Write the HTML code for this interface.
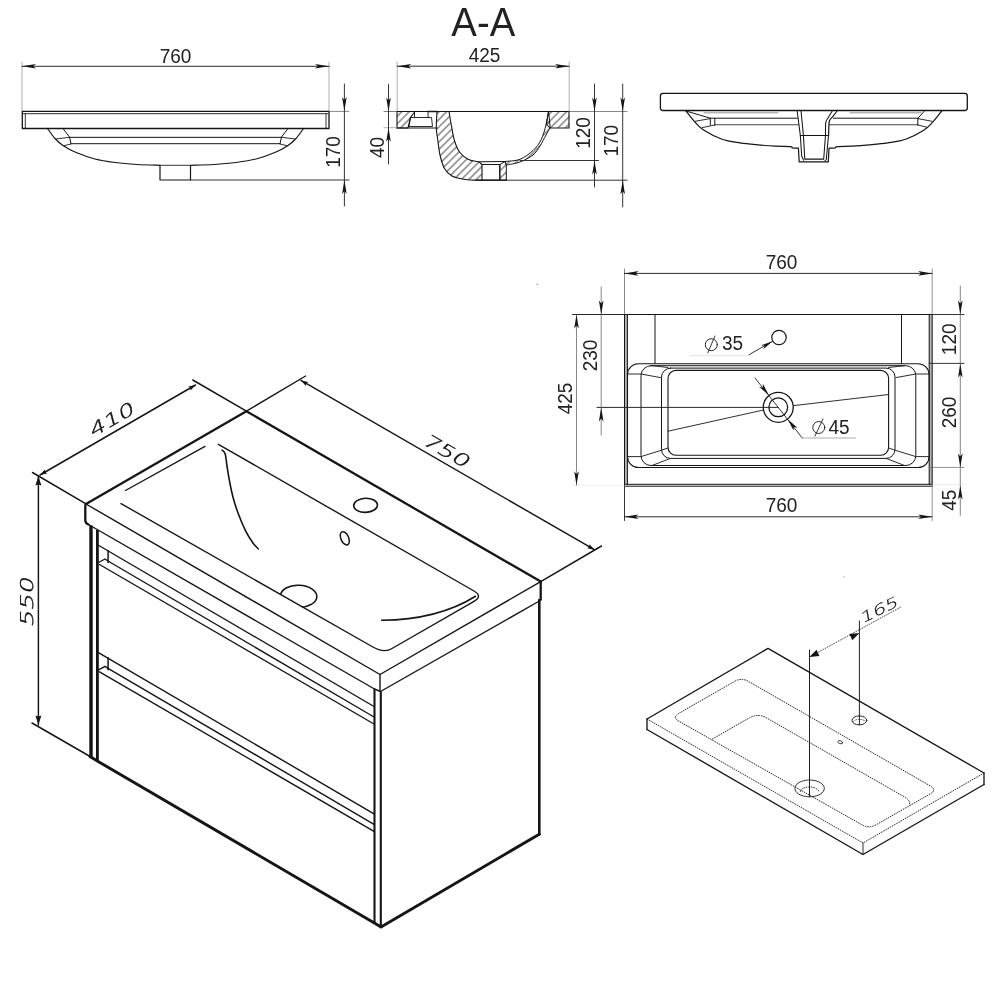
<!DOCTYPE html>
<html lang="en"><head><meta charset="utf-8"><title>Vanity unit 750 – technical drawing</title>
<style>
html,body{margin:0;padding:0;background:#fff;}
body{width:1000px;height:1000px;overflow:hidden;font-family:"Liberation Sans",Arial,sans-serif;}
svg{display:block;will-change:transform;}
</style></head><body>
<svg width="1000" height="1000" viewBox="0 0 1000 1000" stroke-linecap="round" stroke-linejoin="round">
<rect x="0" y="0" width="1000" height="1000" fill="#fff"/>
<defs>
<pattern id="h" width="5.3" height="5.3" patternUnits="userSpaceOnUse" patternTransform="rotate(-45)">
<line x1="0" y1="2.65" x2="5.3" y2="2.65" stroke="#2a2a2a" stroke-width="0.85"/></pattern>
</defs>
<line x1="22.00" y1="62.00" x2="22.00" y2="111.00" stroke="#7a7a7a" stroke-width="0.6" />
<line x1="329.00" y1="62.00" x2="329.00" y2="111.00" stroke="#7a7a7a" stroke-width="0.6" />
<line x1="22.00" y1="66.30" x2="329.00" y2="66.30" stroke="#2a2a2a" stroke-width="1.0" />
<path d="M22.00,66.30 L36.00,64.00 L33.00,66.30 L36.00,68.60 Z" fill="#151515" stroke="none"/>
<path d="M329.00,66.30 L315.00,68.60 L318.00,66.30 L315.00,64.00 Z" fill="#151515" stroke="none"/>
<text transform="translate(175.50 62.50) rotate(0) scale(0.97 1)" x="0" y="0" font-size="19.6" font-family='"Liberation Sans", Arial, sans-serif' text-anchor="middle" fill="#222" >760</text>
<path d="M22.30,111.40 L329.00,111.40 L329.00,128.50 L22.30,128.50 Z" stroke="#151515" stroke-width="1.3" fill="none" />
<line x1="23.00" y1="113.70" x2="328.00" y2="113.70" stroke="#2a2a2a" stroke-width="1.0" />
<line x1="25.30" y1="113.70" x2="25.30" y2="128.00" stroke="#2a2a2a" stroke-width="0.95" />
<line x1="326.00" y1="113.70" x2="326.00" y2="128.00" stroke="#2a2a2a" stroke-width="0.95" />
<path d="M47.50,128.50 C48.75,130.17 52.42,135.67 55.00,138.50 C57.58,141.33 59.67,143.25 63.00,145.50 C66.33,147.75 69.67,149.75 75.00,152.00 C80.33,154.25 88.33,157.25 95.00,159.00 C101.67,160.75 108.00,161.58 115.00,162.50 C122.00,163.42 129.50,164.03 137.00,164.50 C144.50,164.97 156.17,165.17 160.00,165.30" stroke="#151515" stroke-width="1.2" fill="none" />
<path d="M303.50,128.50 C302.25,130.17 298.58,135.67 296.00,138.50 C293.42,141.33 291.33,143.25 288.00,145.50 C284.67,147.75 281.33,149.75 276.00,152.00 C270.67,154.25 262.67,157.25 256.00,159.00 C249.33,160.75 243.00,161.58 236.00,162.50 C229.00,163.42 221.50,164.03 214.00,164.50 C206.50,164.97 194.83,165.17 191.00,165.30" stroke="#151515" stroke-width="1.2" fill="none" />
<path d="M160.00,165.30 L160.00,180.00 L190.50,180.00 L190.50,165.30" stroke="#151515" stroke-width="1.2" fill="none" />
<line x1="160.00" y1="165.30" x2="190.50" y2="165.30" stroke="#2a2a2a" stroke-width="0.95" />
<line x1="69.50" y1="137.35" x2="281.50" y2="137.35" stroke="#151515" stroke-width="1.0" />
<line x1="71.00" y1="143.70" x2="280.00" y2="143.70" stroke="#151515" stroke-width="1.0" />
<path d="M63.00,128.50 L69.50,137.00 L71.00,143.70" stroke="#151515" stroke-width="1.0" fill="none" />
<line x1="56.50" y1="138.90" x2="69.50" y2="137.30" stroke="#151515" stroke-width="0.9" />
<line x1="64.00" y1="145.70" x2="71.00" y2="144.00" stroke="#151515" stroke-width="0.9" />
<path d="M288.00,128.50 L281.50,137.00 L280.00,143.70" stroke="#151515" stroke-width="1.0" fill="none" />
<line x1="294.50" y1="138.90" x2="281.50" y2="137.30" stroke="#151515" stroke-width="0.9" />
<line x1="287.00" y1="145.70" x2="280.00" y2="144.00" stroke="#151515" stroke-width="0.9" />
<line x1="329.00" y1="111.40" x2="349.00" y2="111.40" stroke="#555" stroke-width="0.7" />
<line x1="190.50" y1="180.00" x2="349.00" y2="180.00" stroke="#2a2a2a" stroke-width="0.95" />
<line x1="344.40" y1="84.00" x2="344.40" y2="206.00" stroke="#2a2a2a" stroke-width="0.95" />
<path d="M344.40,111.00 L342.10,97.00 L344.40,100.00 L346.70,97.00 Z" fill="#151515" stroke="none"/>
<path d="M344.40,180.00 L346.70,194.00 L344.40,191.00 L342.10,194.00 Z" fill="#151515" stroke="none"/>
<text transform="translate(340.00 152.00) rotate(-90) scale(0.97 1)" x="0" y="0" font-size="19.6" font-family='"Liberation Sans", Arial, sans-serif' text-anchor="middle" fill="#222" >170</text>
<text transform="translate(483.30 35.70) rotate(0) scale(0.935 1)" x="0" y="0" font-size="41" font-family='"Liberation Sans", Arial, sans-serif' text-anchor="middle" fill="#222" >A-A</text>
<line x1="397.20" y1="62.00" x2="397.20" y2="111.50" stroke="#7a7a7a" stroke-width="0.6" />
<line x1="569.20" y1="62.00" x2="569.20" y2="111.50" stroke="#7a7a7a" stroke-width="0.6" />
<line x1="397.20" y1="66.20" x2="569.20" y2="66.20" stroke="#2a2a2a" stroke-width="1.0" />
<path d="M397.20,66.20 L411.20,63.90 L408.20,66.20 L411.20,68.50 Z" fill="#151515" stroke="none"/>
<path d="M569.20,66.20 L555.20,68.50 L558.20,66.20 L555.20,63.90 Z" fill="#151515" stroke="none"/>
<text transform="translate(484.50 62.20) rotate(0) scale(0.97 1)" x="0" y="0" font-size="19.6" font-family='"Liberation Sans", Arial, sans-serif' text-anchor="middle" fill="#222" >425</text>
<path d="M397.00,111.50 L415.00,111.50 L410.50,117.50 L408.00,128.00 L397.00,128.00 Z" stroke="#151515" stroke-width="1.1" fill="url(#h)" />
<line x1="397.00" y1="111.50" x2="569.00" y2="111.50" stroke="#151515" stroke-width="1.2" />
<line x1="397.00" y1="128.00" x2="437.00" y2="128.00" stroke="#151515" stroke-width="1.1" />
<path d="M410.50,117.50 L431.50,117.50 L432.50,126.50 L409.00,126.50 L410.50,117.50" stroke="#151515" stroke-width="0.9" fill="none" />
<line x1="414.50" y1="111.50" x2="414.50" y2="117.50" stroke="#151515" stroke-width="0.9" />
<line x1="428.00" y1="111.50" x2="428.00" y2="117.50" stroke="#151515" stroke-width="0.9" />
<path d="M428.00,111.50 L437.00,111.50" stroke="#151515" stroke-width="1.6" fill="none" />
<path d="M437.00,111.50 C436.88,114.25 436.17,123.25 436.30,128.00 C436.43,132.75 437.18,135.50 437.80,140.00 C438.42,144.50 438.88,150.25 440.00,155.00 C441.12,159.75 442.50,165.00 444.50,168.50 C446.50,172.00 448.75,174.20 452.00,176.00 C455.25,177.80 460.00,178.60 464.00,179.30 C468.00,180.00 474.00,180.05 476.00,180.20 L482,180.2 L482,164.5 L479,161.8 L479.00,161.80 C477.25,161.42 471.75,161.13 468.50,159.50 C465.25,157.87 461.87,155.25 459.50,152.00 C457.13,148.75 455.67,144.50 454.30,140.00 C452.93,135.50 452.18,129.75 451.30,125.00 C450.42,120.25 449.38,113.75 449.00,111.50 Z" stroke="#151515" stroke-width="1.1" fill="url(#h)" />
<path d="M482.00,164.50 L500.00,164.50 L500.00,180.20 L482.00,180.20" stroke="#151515" stroke-width="1.0" fill="none" />
<path d="M479.00,161.80 L505.00,161.50" stroke="#151515" stroke-width="1.0" fill="none" />
<path d="M500.00,164.50 L505.00,161.50 L506.30,165.00 L506.30,180.20 L500.00,180.20 Z" stroke="#151515" stroke-width="1.0" fill="url(#h)" />
<line x1="476.00" y1="180.20" x2="506.30" y2="180.20" stroke="#151515" stroke-width="1.2" />
<path d="M548.50,111.50 C548.08,113.75 547.25,120.25 546.00,125.00 C544.75,129.75 543.17,135.75 541.00,140.00 C538.83,144.25 536.50,147.28 533.00,150.50 C529.50,153.72 524.67,157.47 520.00,159.30 C515.33,161.13 507.50,161.13 505.00,161.50 L506.30,165.00 C508.58,164.50 515.55,163.67 520.00,162.00 C524.45,160.33 529.67,157.67 533.00,155.00 C536.33,152.33 537.83,149.33 540.00,146.00 C542.17,142.67 544.33,138.00 546.00,135.00 C547.67,132.00 549.33,129.17 550.00,128.00 Z" stroke="#151515" stroke-width="1.0" fill="url(#h)" />
<path d="M548.50,111.50 L569.00,111.50 L569.00,128.00 L550.00,128.00 L546.30,124.00 Z" stroke="#151515" stroke-width="1.1" fill="url(#h)" />
<line x1="384.00" y1="111.50" x2="397.00" y2="111.50" stroke="#444" stroke-width="0.7" />
<line x1="384.00" y1="127.70" x2="397.00" y2="127.70" stroke="#7a7a7a" stroke-width="0.6" />
<line x1="388.50" y1="84.50" x2="388.50" y2="164.00" stroke="#2a2a2a" stroke-width="0.95" />
<path d="M388.50,111.50 L386.20,97.50 L388.50,100.50 L390.80,97.50 Z" fill="#151515" stroke="none"/>
<path d="M388.50,127.70 L390.80,141.70 L388.50,138.70 L386.20,141.70 Z" fill="#151515" stroke="none"/>
<text transform="translate(383.50 147.50) rotate(-90) scale(0.97 1)" x="0" y="0" font-size="19.6" font-family='"Liberation Sans", Arial, sans-serif' text-anchor="middle" fill="#222" >40</text>
<line x1="569.00" y1="111.50" x2="627.00" y2="111.50" stroke="#555" stroke-width="0.7" />
<line x1="520.00" y1="160.50" x2="598.50" y2="160.50" stroke="#2a2a2a" stroke-width="0.95" />
<line x1="506.00" y1="180.20" x2="627.00" y2="180.20" stroke="#2a2a2a" stroke-width="0.95" />
<line x1="594.50" y1="84.00" x2="594.50" y2="187.00" stroke="#2a2a2a" stroke-width="0.95" />
<line x1="622.70" y1="84.00" x2="622.70" y2="207.00" stroke="#2a2a2a" stroke-width="0.95" />
<path d="M594.50,111.50 L592.20,97.50 L594.50,100.50 L596.80,97.50 Z" fill="#151515" stroke="none"/>
<path d="M594.50,160.50 L596.80,174.50 L594.50,171.50 L592.20,174.50 Z" fill="#151515" stroke="none"/>
<path d="M622.70,111.50 L620.40,97.50 L622.70,100.50 L625.00,97.50 Z" fill="#151515" stroke="none"/>
<path d="M622.70,180.20 L625.00,194.20 L622.70,191.20 L620.40,194.20 Z" fill="#151515" stroke="none"/>
<text transform="translate(590.00 133.00) rotate(-90) scale(0.97 1)" x="0" y="0" font-size="19.6" font-family='"Liberation Sans", Arial, sans-serif' text-anchor="middle" fill="#222" >120</text>
<text transform="translate(618.00 140.70) rotate(-90) scale(0.97 1)" x="0" y="0" font-size="19.6" font-family='"Liberation Sans", Arial, sans-serif' text-anchor="middle" fill="#222" >170</text>
<rect x="660.40" y="93.40" width="306.90" height="17.10" rx="2.5" ry="2.5" fill="none" stroke="#151515" stroke-width="1.3"/>
<path d="M686.00,111.00 C687.50,112.87 692.00,118.98 695.00,122.20 C698.00,125.42 699.50,127.45 704.00,130.30 C708.50,133.15 716.00,137.20 722.00,139.30 C728.00,141.40 734.00,141.97 740.00,142.90 C746.00,143.83 752.17,144.35 758.00,144.90 C763.83,145.45 769.58,145.92 775.00,146.20 C780.42,146.48 787.58,146.33 790.50,146.60 C793.42,146.87 791.18,147.53 792.50,147.80 C793.82,148.07 797.42,148.13 798.40,148.20" stroke="#151515" stroke-width="1.2" fill="none" />
<path d="M941.70,111.00 C940.20,112.87 935.70,118.98 932.70,122.20 C929.70,125.42 928.20,127.45 923.70,130.30 C919.20,133.15 911.70,137.20 905.70,139.30 C899.70,141.40 893.70,141.97 887.70,142.90 C881.70,143.83 875.53,144.35 869.70,144.90 C863.87,145.45 858.12,145.92 852.70,146.20 C847.28,146.48 840.12,146.33 837.20,146.60 C834.28,146.87 836.52,147.53 835.20,147.80 C833.88,148.07 830.28,148.13 829.30,148.20" stroke="#151515" stroke-width="1.2" fill="none" />
<line x1="704.00" y1="112.80" x2="778.00" y2="112.80" stroke="#777" stroke-width="0.8" />
<line x1="850.00" y1="112.80" x2="921.00" y2="112.80" stroke="#777" stroke-width="0.8" />
<line x1="710.30" y1="118.20" x2="797.50" y2="118.20" stroke="#151515" stroke-width="1.0" />
<line x1="833.40" y1="118.20" x2="917.80" y2="118.20" stroke="#151515" stroke-width="1.0" />
<line x1="714.80" y1="124.80" x2="798.50" y2="124.80" stroke="#444" stroke-width="1.1" />
<line x1="829.50" y1="124.80" x2="917.80" y2="124.80" stroke="#444" stroke-width="1.1" />
<path d="M686.00,111.00 L710.30,118.20 L710.30,125.00" stroke="#151515" stroke-width="1.0" fill="none" />
<line x1="714.80" y1="118.20" x2="714.80" y2="125.00" stroke="#151515" stroke-width="1.0" />
<line x1="695.00" y1="121.30" x2="710.30" y2="118.60" stroke="#151515" stroke-width="0.9" />
<line x1="702.20" y1="127.60" x2="714.80" y2="125.00" stroke="#151515" stroke-width="0.9" />
<path d="M924.00,111.50 L917.80,118.40 L917.80,125.00" stroke="#151515" stroke-width="1.0" fill="none" />
<line x1="917.80" y1="118.60" x2="932.00" y2="121.30" stroke="#151515" stroke-width="0.9" />
<line x1="917.80" y1="125.00" x2="926.80" y2="127.20" stroke="#151515" stroke-width="0.9" />
<path d="M797.10,110.50 L800.30,135.30 L801.70,156.00 L803.60,160.20" stroke="#151515" stroke-width="1.05" fill="none" />
<path d="M801.00,110.50 L803.40,135.30 L804.80,159.10 L823.70,159.10 L825.50,135.30" stroke="#151515" stroke-width="1.05" fill="none" />
<line x1="800.30" y1="135.40" x2="828.60" y2="135.40" stroke="#151515" stroke-width="1.05" />
<path d="M798.40,148.30 L799.20,161.90 L828.30,161.90 L829.00,148.30" stroke="#151515" stroke-width="1.2" fill="none" />
<path d="M837.40,110.50 C836.70,111.43 834.48,114.47 833.20,116.10 C831.92,117.73 830.40,119.02 829.70,120.30 C829.00,121.58 829.18,121.30 829.00,123.80 C828.82,126.30 828.67,133.38 828.60,135.30" stroke="#151515" stroke-width="1.2" fill="none" />
<path d="M832.50,110.50 C831.80,111.67 829.42,115.52 828.30,117.50 C827.18,119.48 826.27,119.43 825.80,122.40 C825.33,125.37 825.55,133.15 825.50,135.30" stroke="#151515" stroke-width="1.05" fill="none" />
<path d="M828.50,135.30 L826.30,159.50 L824.80,161.00" stroke="#151515" stroke-width="1.05" fill="none" />
<rect x="624.5" y="314.5" width="2.8999999999999773" height="169.8" fill="#b5b5b5"/>
<rect x="929.2" y="314.5" width="3.0" height="169.8" fill="#b5b5b5"/>
<line x1="624.50" y1="314.50" x2="624.50" y2="486.20" stroke="#151515" stroke-width="1.0" />
<line x1="627.40" y1="314.50" x2="627.40" y2="484.30" stroke="#151515" stroke-width="1.0" />
<line x1="932.20" y1="314.50" x2="932.20" y2="486.20" stroke="#151515" stroke-width="1.0" />
<line x1="929.20" y1="314.50" x2="929.20" y2="484.30" stroke="#151515" stroke-width="1.0" />
<line x1="624.50" y1="314.50" x2="932.20" y2="314.50" stroke="#151515" stroke-width="1.2" />
<line x1="625.00" y1="484.30" x2="931.70" y2="484.30" stroke="#151515" stroke-width="1.0" />
<line x1="625.50" y1="486.20" x2="931.20" y2="486.20" stroke="#151515" stroke-width="1.0" />
<line x1="655.00" y1="314.50" x2="655.00" y2="363.60" stroke="#151515" stroke-width="1.0" />
<line x1="901.50" y1="314.50" x2="901.50" y2="363.60" stroke="#151515" stroke-width="1.0" />
<rect x="627.50" y="363.70" width="301.60" height="103.80" rx="11" ry="11" fill="none" stroke="#151515" stroke-width="1.1"/>
<rect x="641.00" y="365.70" width="274.80" height="99.80" rx="10" ry="10" fill="none" stroke="#151515" stroke-width="1.0"/>
<rect x="661.50" y="368.10" width="233.50" height="90.30" rx="9" ry="9" fill="none" stroke="#151515" stroke-width="1.0"/>
<rect x="668.00" y="370.40" width="220.60" height="84.90" rx="8" ry="8" fill="none" stroke="#151515" stroke-width="1.1"/>
<path d="M627.50,374.00 L641.00,374.00 L660.50,377.60" stroke="#151515" stroke-width="0.9" fill="none" />
<path d="M929.10,374.00 L915.80,374.00 L896.00,377.60" stroke="#151515" stroke-width="0.9" fill="none" />
<path d="M627.50,456.60 L641.00,456.60 L661.50,450.20 L668.00,448.00" stroke="#151515" stroke-width="0.9" fill="none" />
<path d="M929.10,456.60 L915.80,456.60 L895.00,450.20 L888.60,448.00" stroke="#151515" stroke-width="0.9" fill="none" />
<line x1="652.00" y1="465.50" x2="670.00" y2="458.60" stroke="#151515" stroke-width="0.9" />
<line x1="904.60" y1="465.50" x2="886.60" y2="458.60" stroke="#151515" stroke-width="0.9" />
<line x1="652.00" y1="365.70" x2="668.00" y2="367.50" stroke="#151515" stroke-width="0.9" />
<line x1="904.60" y1="365.70" x2="888.60" y2="367.50" stroke="#151515" stroke-width="0.9" />
<line x1="597.00" y1="407.40" x2="778.00" y2="407.40" stroke="#2a2a2a" stroke-width="1.0" />
<line x1="668.00" y1="431.20" x2="763.50" y2="410.00" stroke="#151515" stroke-width="0.9" />
<line x1="793.00" y1="405.70" x2="888.60" y2="394.50" stroke="#151515" stroke-width="0.9" />
<circle cx="778.25" cy="407.3" r="15" fill="#fff" stroke="#151515" stroke-width="1.3"/>
<circle cx="778.25" cy="407.3" r="9.4" fill="none" stroke="#151515" stroke-width="1.3"/>
<line x1="763.00" y1="407.40" x2="778.00" y2="407.40" stroke="#2a2a2a" stroke-width="1.0" />
<circle cx="779" cy="337.5" r="7.2" fill="none" stroke="#151515" stroke-width="1.2"/>
<line x1="749.00" y1="354.70" x2="772.60" y2="341.30" stroke="#2a2a2a" stroke-width="0.95" />
<path d="M772.60,341.30 L763.30,349.23 L764.77,345.74 L761.03,345.22 Z" fill="#151515" stroke="none"/>
<line x1="690.00" y1="355.60" x2="749.00" y2="355.60" stroke="#ccc" stroke-width="0.5" />
<circle cx="711.3" cy="344.7" r="6" fill="none" stroke="#151515" stroke-width="0.9"/>
<line x1="707.80" y1="352.80" x2="715.00" y2="336.00" stroke="#2a2a2a" stroke-width="0.95" />
<text transform="translate(722.00 350.30) rotate(0) scale(0.97 1)" x="0" y="0" font-size="19.6" font-family='"Liberation Sans", Arial, sans-serif' text-anchor="start" fill="#222" >35</text>
<line x1="755.00" y1="378.00" x2="802.30" y2="438.00" stroke="#2a2a2a" stroke-width="0.95" />
<line x1="802.30" y1="438.00" x2="855.50" y2="438.00" stroke="#777" stroke-width="0.6" />
<path d="M769.00,395.50 L759.07,386.77 L762.81,387.64 L762.84,383.80 Z" fill="#151515" stroke="none"/>
<path d="M787.50,419.10 L797.43,427.83 L793.69,426.96 L793.66,430.80 Z" fill="#151515" stroke="none"/>
<circle cx="818.8" cy="427.5" r="6" fill="none" stroke="#151515" stroke-width="0.9"/>
<line x1="815.00" y1="436.00" x2="823.00" y2="419.00" stroke="#2a2a2a" stroke-width="0.95" />
<text transform="translate(828.50 433.50) rotate(0) scale(0.97 1)" x="0" y="0" font-size="19.6" font-family='"Liberation Sans", Arial, sans-serif' text-anchor="start" fill="#222" >45</text>
<line x1="624.50" y1="269.00" x2="624.50" y2="314.50" stroke="#555" stroke-width="0.7" />
<line x1="932.20" y1="269.00" x2="932.20" y2="314.50" stroke="#666" stroke-width="0.7" />
<line x1="624.50" y1="273.40" x2="932.20" y2="273.40" stroke="#2a2a2a" stroke-width="1.0" />
<path d="M624.50,273.40 L638.50,271.10 L635.50,273.40 L638.50,275.70 Z" fill="#151515" stroke="none"/>
<path d="M932.20,273.40 L918.20,275.70 L921.20,273.40 L918.20,271.10 Z" fill="#151515" stroke="none"/>
<text transform="translate(781.50 268.70) rotate(0) scale(0.97 1)" x="0" y="0" font-size="19.6" font-family='"Liberation Sans", Arial, sans-serif' text-anchor="middle" fill="#222" >760</text>
<line x1="624.50" y1="486.20" x2="624.50" y2="520.50" stroke="#2a2a2a" stroke-width="0.95" />
<line x1="932.20" y1="486.20" x2="932.20" y2="520.50" stroke="#666" stroke-width="0.7" />
<line x1="624.50" y1="516.80" x2="932.20" y2="516.80" stroke="#2a2a2a" stroke-width="1.0" />
<path d="M624.50,516.80 L638.50,514.50 L635.50,516.80 L638.50,519.10 Z" fill="#151515" stroke="none"/>
<path d="M932.20,516.80 L918.20,519.10 L921.20,516.80 L918.20,514.50 Z" fill="#151515" stroke="none"/>
<text transform="translate(781.50 512.30) rotate(0) scale(0.97 1)" x="0" y="0" font-size="19.6" font-family='"Liberation Sans", Arial, sans-serif' text-anchor="middle" fill="#222" >760</text>
<line x1="572.50" y1="314.50" x2="624.50" y2="314.50" stroke="#2a2a2a" stroke-width="1.0" />
<line x1="572.00" y1="485.20" x2="624.50" y2="485.20" stroke="#ddd" stroke-width="0.5" />
<line x1="576.50" y1="314.50" x2="576.50" y2="485.20" stroke="#555" stroke-width="0.7" />
<path d="M576.50,314.50 L578.80,328.50 L576.50,325.50 L574.20,328.50 Z" fill="#151515" stroke="none"/>
<path d="M576.50,485.20 L574.20,471.20 L576.50,474.20 L578.80,471.20 Z" fill="#151515" stroke="none"/>
<line x1="601.20" y1="287.00" x2="601.20" y2="435.00" stroke="#555" stroke-width="0.7" />
<path d="M601.20,314.50 L598.90,300.50 L601.20,303.50 L603.50,300.50 Z" fill="#151515" stroke="none"/>
<path d="M601.20,407.40 L603.50,421.40 L601.20,418.40 L598.90,421.40 Z" fill="#151515" stroke="none"/>
<text transform="translate(572.30 398.50) rotate(-90) scale(0.97 1)" x="0" y="0" font-size="19.6" font-family='"Liberation Sans", Arial, sans-serif' text-anchor="middle" fill="#222" >425</text>
<text transform="translate(596.80 355.50) rotate(-90) scale(0.97 1)" x="0" y="0" font-size="19.6" font-family='"Liberation Sans", Arial, sans-serif' text-anchor="middle" fill="#222" >230</text>
<line x1="932.20" y1="314.50" x2="964.00" y2="314.50" stroke="#2a2a2a" stroke-width="0.95" />
<line x1="929.20" y1="363.40" x2="964.00" y2="363.40" stroke="#2a2a2a" stroke-width="0.95" />
<line x1="929.20" y1="467.40" x2="964.00" y2="467.40" stroke="#666" stroke-width="0.7" />
<line x1="932.20" y1="484.60" x2="964.00" y2="484.60" stroke="#ddd" stroke-width="0.5" />
<line x1="960.30" y1="286.00" x2="960.30" y2="515.30" stroke="#505050" stroke-width="0.7" />
<path d="M960.30,314.50 L958.00,300.50 L960.30,303.50 L962.60,300.50 Z" fill="#151515" stroke="none"/>
<path d="M960.30,363.40 L962.60,377.40 L960.30,374.40 L958.00,377.40 Z" fill="#151515" stroke="none"/>
<path d="M960.30,467.40 L958.00,453.40 L960.30,456.40 L962.60,453.40 Z" fill="#151515" stroke="none"/>
<path d="M960.30,485.50 L962.60,499.50 L960.30,496.50 L958.00,499.50 Z" fill="#151515" stroke="none"/>
<text transform="translate(956.00 339.30) rotate(-90) scale(0.97 1)" x="0" y="0" font-size="19.6" font-family='"Liberation Sans", Arial, sans-serif' text-anchor="middle" fill="#222" >120</text>
<text transform="translate(956.00 412.50) rotate(-90) scale(0.97 1)" x="0" y="0" font-size="19.6" font-family='"Liberation Sans", Arial, sans-serif' text-anchor="middle" fill="#222" >260</text>
<text transform="translate(956.00 500.30) rotate(-90) scale(0.97 1)" x="0" y="0" font-size="19.6" font-family='"Liberation Sans", Arial, sans-serif' text-anchor="middle" fill="#222" >45</text>
<line x1="32.50" y1="472.50" x2="86.00" y2="503.80" stroke="#151515" stroke-width="1.45" />
<line x1="192.80" y1="380.00" x2="246.40" y2="411.20" stroke="#151515" stroke-width="1.45" />
<line x1="246.40" y1="411.20" x2="305.60" y2="376.00" stroke="#151515" stroke-width="1.45" />
<line x1="540.70" y1="581.60" x2="601.50" y2="546.00" stroke="#151515" stroke-width="1.45" />
<line x1="32.00" y1="723.00" x2="91.00" y2="757.00" stroke="#151515" stroke-width="1.45" />
<line x1="38.40" y1="476.00" x2="38.40" y2="725.00" stroke="#151515" stroke-width="1.45" />
<path d="M38.40,476.00 L41.40,485.50 L38.40,484.50 L35.40,485.50 Z" fill="#151515" stroke="none"/>
<path d="M38.40,725.00 L35.40,715.50 L38.40,716.50 L41.40,715.50 Z" fill="#151515" stroke="none"/>
<line x1="40.00" y1="475.00" x2="195.50" y2="385.00" stroke="#151515" stroke-width="1.45" />
<path d="M40.00,475.00 L44.90,469.50 L45.19,471.99 L47.21,473.47 Z" fill="#151515" stroke="none"/>
<path d="M195.50,385.00 L190.60,390.50 L190.31,388.01 L188.29,386.53 Z" fill="#151515" stroke="none"/>
<line x1="301.00" y1="380.40" x2="594.40" y2="549.70" stroke="#151515" stroke-width="1.45" />
<path d="M301.00,380.40 L308.21,381.92 L306.19,383.41 L305.91,385.90 Z" fill="#151515" stroke="none"/>
<path d="M594.40,549.70 L587.19,548.18 L589.21,546.69 L589.49,544.20 Z" fill="#151515" stroke="none"/>
<g transform="translate(33.00 602.90) rotate(-90) skewX(-15) scale(1.5 1)"><text x="0" y="0" font-size="17.6" font-family='"DejaVu Sans Light","DejaVu Sans",sans-serif' font-weight="200" text-anchor="middle" fill="#111" letter-spacing="-0.2" stroke="#111" stroke-width="0.4">550</text></g>
<g transform="translate(113.60 425.30) rotate(-30) skewX(-15) scale(1.5 1)"><text x="0" y="0" font-size="17.6" font-family='"DejaVu Sans Light","DejaVu Sans",sans-serif' font-weight="200" text-anchor="middle" fill="#111" letter-spacing="-0.2" stroke="#111" stroke-width="0.4">410</text></g>
<g transform="translate(442.50 455.70) rotate(30) skewX(-15) scale(1.5 1)"><text x="0" y="0" font-size="17.6" font-family='"DejaVu Sans Light","DejaVu Sans",sans-serif' font-weight="200" text-anchor="middle" fill="#111" letter-spacing="-0.2" stroke="#111" stroke-width="0.4">750</text></g>
<path d="M86.00,504.00 L246.40,411.20 L540.70,581.60" stroke="#151515" stroke-width="2.3" fill="none" />
<line x1="540.70" y1="581.60" x2="540.70" y2="599.80" stroke="#151515" stroke-width="2.3" />
<path d="M86,504 Q85.3,504.5 85.3,506 L85.3,520.5 Q85.5,523.5 88.5,524.5" stroke="#151515" stroke-width="2.3" fill="none" />
<path d="M86.00,504.00 L380.00,674.50 L540.70,581.60" stroke="#151515" stroke-width="1.4" fill="none" />
<line x1="380.00" y1="674.50" x2="380.00" y2="691.30" stroke="#151515" stroke-width="1.4" />
<path d="M88.50,524.50 L374.50,689.00 L380.50,691.50 L538.50,601.50" stroke="#151515" stroke-width="1.4" fill="none" />
<line x1="125.50" y1="490.50" x2="205.00" y2="446.40" stroke="#151515" stroke-width="1.4" />
<path d="M121,503.6 L372,646.5 Q384,653.5 392,648.5 L474,601.3 Q483,596.2 474,591 L218.4,444.3" stroke="#151515" stroke-width="1.4" fill="none" />
<path d="M222.20,450.20 C222.70,450.83 224.40,451.37 225.20,454.00 C226.00,456.63 226.30,461.60 227.00,466.00 C227.70,470.40 228.40,475.20 229.40,480.40 C230.40,485.60 231.50,491.60 233.00,497.20 C234.50,502.80 236.30,508.40 238.40,514.00 C240.50,519.60 243.20,526.00 245.60,530.80 C248.00,535.60 250.70,539.80 252.80,542.80 C254.90,545.80 257.30,547.80 258.20,548.80" stroke="#151515" stroke-width="1.6" fill="none" />
<path d="M381.7,620.3 C420,620 452,611 475.5,596.3" stroke="#151515" stroke-width="1.6" fill="none" />
<ellipse cx="365.60" cy="505.30" rx="11.9" ry="7.1" fill="none" stroke="#151515" stroke-width="1.6" transform="rotate(-2 365.60 505.30)" />
<ellipse cx="344.80" cy="538.30" rx="3.9" ry="7" fill="none" stroke="#151515" stroke-width="1.5" transform="rotate(-24 344.80 538.30)" />
<clipPath id="dc"><polygon points="270,560 340,560 340,628.6 270,588.8"/></clipPath>
<ellipse cx="298.70" cy="596.20" rx="18.2" ry="11" fill="none" stroke="#151515" stroke-width="1.6" transform="rotate(2 298.70 596.20)" clip-path="url(#dc)"/>
<line x1="91.00" y1="525.50" x2="91.00" y2="758.00" stroke="#151515" stroke-width="3.4" stroke-linecap="butt"/>
<line x1="97.40" y1="530.00" x2="97.40" y2="761.00" stroke="#151515" stroke-width="2.8" stroke-linecap="butt"/>
<path d="M90.00,756.50 L97.30,761.00 L374.80,923.20 L381.00,927.00 L539.30,834.20" stroke="#151515" stroke-width="2.9" fill="none" />
<line x1="374.50" y1="689.50" x2="374.50" y2="923.00" stroke="#151515" stroke-width="2.1" />
<line x1="380.80" y1="692.00" x2="380.80" y2="927.00" stroke="#151515" stroke-width="2.1" />
<line x1="539.30" y1="600.00" x2="539.30" y2="834.20" stroke="#151515" stroke-width="2.6" />
<line x1="98.00" y1="545.00" x2="374.00" y2="706.50" stroke="#151515" stroke-width="1.4" />
<line x1="108.10" y1="550.50" x2="108.10" y2="562.50" stroke="#151515" stroke-width="1.5" />
<path d="M98.50,562.50 L105.00,559.00 L108.00,561.00 L374.00,717.00" stroke="#151515" stroke-width="1.4" fill="none" />
<line x1="99.50" y1="564.50" x2="374.00" y2="724.00" stroke="#151515" stroke-width="1.4" />
<line x1="98.00" y1="652.30" x2="374.00" y2="813.80" stroke="#151515" stroke-width="1.4" />
<line x1="108.10" y1="657.80" x2="108.10" y2="669.80" stroke="#151515" stroke-width="1.5" />
<path d="M98.50,669.80 L105.00,666.30 L108.00,668.30 L374.00,824.30" stroke="#151515" stroke-width="1.4" fill="none" />
<line x1="99.50" y1="671.80" x2="374.00" y2="831.30" stroke="#151515" stroke-width="1.4" />
<path d="M647.00,719.00 L768.00,648.40 L984.00,773.00" stroke="#151515" stroke-width="1.35" fill="none" />
<line x1="984.00" y1="773.00" x2="984.00" y2="784.50" stroke="#151515" stroke-width="1.35" />
<line x1="647.00" y1="719.00" x2="647.00" y2="729.50" stroke="#151515" stroke-width="1.35" />
<path d="M647.00,729.50 L863.00,854.50 L984.00,784.50" stroke="#151515" stroke-width="1.35" fill="none" />
<path d="M647.00,719.00 L863.00,843.00 L984.00,773.00" stroke="#222" stroke-width="0.95" fill="none" stroke-dasharray="1.6 0.9" stroke-linecap="butt"/>
<line x1="863.00" y1="843.00" x2="863.00" y2="854.50" stroke="#222" stroke-width="0.95" />
<path d="M678.96,721.24 Q672.00,717.30 678.94,713.32 L734.56,681.38 Q741.50,677.40 748.44,681.39 L930.26,785.91 Q937.20,789.90 930.25,793.86 L875.95,824.84 Q869.00,828.80 862.04,824.86 Z" stroke="#222" stroke-width="0.95" fill="none" stroke-dasharray="1.6 0.9" stroke-linecap="butt"/>
<path d="M712,739.3 L749,718 Q757,713.5 765,717 L902,795.5 Q909.6,799.5 909.6,803 L909.6,805.5" stroke="#222" stroke-width="0.95" fill="none" stroke-dasharray="1.6 0.9" stroke-linecap="butt"/>
<ellipse cx="809.60" cy="788.40" rx="14.7" ry="8.4" fill="none" stroke="#222" stroke-width="0.95" stroke-dasharray="3 0.8"/>
<path d="M800.3,792 A9.3,5 0 0 1 818.9,792" stroke="#222" stroke-width="0.95" fill="none" stroke-dasharray="1.6 0.9" stroke-linecap="butt"/>
<ellipse cx="859.40" cy="720.40" rx="7.4" ry="4.5" fill="none" stroke="#222" stroke-width="1.0" />
<path d="M853.5,721.5 A6,2.6 0 0 1 865.3,721.5" stroke="#222" stroke-width="0.8" fill="none" stroke-dasharray="1.6 0.9" stroke-linecap="butt"/>
<ellipse cx="840.20" cy="742.20" rx="2.4" ry="1.5" fill="none" stroke="#222" stroke-width="0.8" transform="rotate(20 840.20 742.20)" />
<line x1="809.50" y1="650.00" x2="809.50" y2="796.60" stroke="#222" stroke-width="1.0" />
<line x1="859.40" y1="621.00" x2="859.40" y2="724.80" stroke="#222" stroke-width="1.0" />
<line x1="809.40" y1="657.00" x2="901.00" y2="607.00" stroke="#222" stroke-width="0.8" stroke-dasharray="1.6 0.9" stroke-linecap="butt"/>
<path d="M809.40,657.00 L816.49,649.82 L817.96,652.89 L819.44,655.95 Z" fill="#151515" stroke="none"/>
<path d="M859.40,633.00 L852.31,640.18 L850.84,637.11 L849.36,634.05 Z" fill="#151515" stroke="none"/>
<g transform="translate(880.4 614.7) rotate(-25.6) skewX(-15) scale(1.5 1)"><text x="0" y="0" font-size="14.4" font-family='"DejaVu Sans Light","DejaVu Sans",sans-serif' font-weight="200" text-anchor="middle" fill="#111" letter-spacing="-0.2" stroke="#111" stroke-width="0.2">165</text></g>
<rect x="536.7" y="283.9" width="1" height="1" fill="#555"/><rect x="843.7" y="576.6" width="1" height="1" fill="#777"/>
</svg>
</body></html>
